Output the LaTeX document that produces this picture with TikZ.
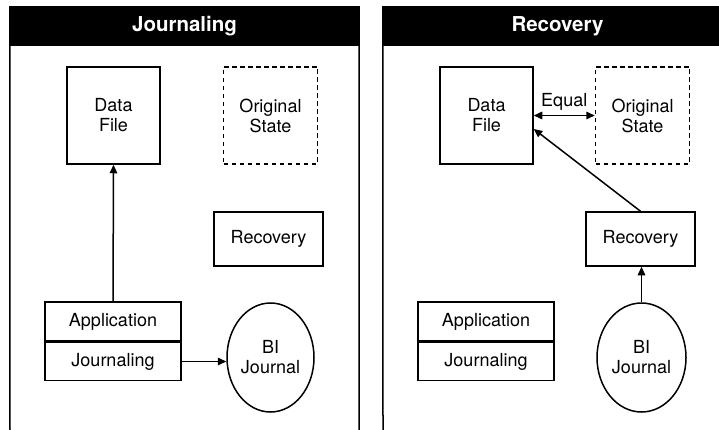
\documentclass[tikz,border=0pt]{standalone}
\usepackage{fontspec}
\setmainfont{TeX Gyre Heros}
\usetikzlibrary{positioning}
\usetikzlibrary{shapes.geometric, arrows.meta}
\tikzstyle{arrow} = [line width=1.5pt,-{Triangle[length=8.5pt,width=7.5pt]}]
\tikzstyle{darrow} = [line width=1.5pt,{Triangle[length=8.5pt,width=7.5pt]}-{Triangle[length=8.5pt,width=7.5pt]}]
\tikzstyle{box} = [draw,line width=1.5pt,fill=white,align=center,inner sep=0pt,font=\fontsize{18}{20}\selectfont]
\tikzstyle{header} = [fill=black,text=white,inner sep=0pt,minimum width=349pt,minimum height=39pt,font=\fontsize{20.5}{24}\selectfont\bfseries]

\begin{document}
\begin{tikzpicture}[x=1pt,y=-1pt]
	\useasboundingbox (0,0) rectangle (719,430);
	\clip (0,0) rectangle (719,430);

	%Panels
	\node [header] (hdr1) at (184.5,26.5) {Journaling};
	\node [header] (hdr2) at (557.5,26.5) {Recovery};
	\draw [line width=1.5pt] (10,430) -- (hdr1.north west) -- (hdr1.north east) -- (359,430);
	\draw [line width=1.5pt] (383,430) -- (hdr2.north west) -- (hdr2.north east) -- (732,430);

	%Journaling nodes
	\node [box,minimum width=93pt,minimum height=97pt] (df1) at (113.5,115.5) {Data\\File};
	\node [box,dashed,dash pattern=on 4.5pt off 3.5pt,minimum width=94pt,minimum height=97pt, right=62pt of df1] (os1) {Original\\State};
	\node [box,minimum width=109pt,minimum height=54pt] (rec1) at (268.5,239) {Recovery};
	\node [box,minimum width=136pt,minimum height=39pt] (app1) at (113,321.5) {Application};
	\node [box,minimum width=136pt,minimum height=38pt, below=0pt of app1] (jou1) {Journaling};
	\node [box,ellipse,minimum width=87pt,minimum height=109pt] (bij1) at (270.5,357.5) {BI\\Journal};

	%Journaling lines
	\draw[arrow] (app1.north) -- (df1.south);
	\draw[arrow] (jou1.east) -- (jou1.east -| bij1.west);

	%Recovery nodes
	\node [box,minimum width=93pt,minimum height=97pt] (df2) at (486.5,115.5) {Data\\File};
	\node [box,dashed,dash pattern=on 4.5pt off 3.5pt,minimum width=94pt,minimum height=97pt, right=61pt of df2] (os2) {Original\\State};
	\node [box,minimum width=109pt,minimum height=54pt] (rec2) at (640.5,239) {Recovery};
	\node [box,minimum width=136pt,minimum height=39pt] (app2) at (486,321.5) {Application};
	\node [box,minimum width=136pt,minimum height=38pt, below=0pt of app2] (jou2) {Journaling};
	\node [box,ellipse,minimum width=89pt,minimum height=109pt] (bij2) at (641.5,357.5) {BI\\Journal};

	%Recovery lines
	\draw[darrow] (df2.east) -- node[above=1pt,font=\fontsize{18}{20}\selectfont] (eq) {Equal} (os2.west);
	\draw[arrow] (rec2.north) -- ([yshift=-13.5pt]df2.east);
	\draw[arrow] (bij2.north) -- (bij2.north |- rec2.south);
\end{tikzpicture}
\end{document}
